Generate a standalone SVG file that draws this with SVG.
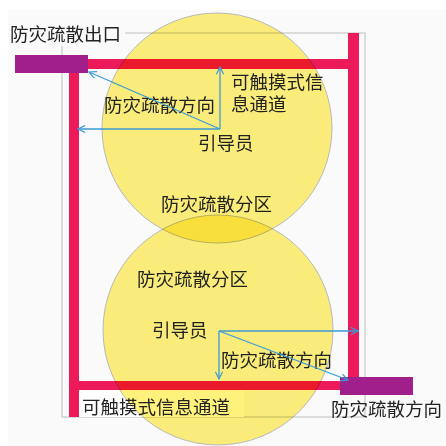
<svg xmlns="http://www.w3.org/2000/svg" width="446" height="446" viewBox="0 0 446 446">
<defs>
<style>
.t{font-family:"Noto Sans CJK SC","Noto Sans",sans-serif;font-size:18.5px;fill:#222}
.bar{fill:#ec1a5a}
.pur{fill:#a01f8b}
.zone{fill:#fef17c;stroke:#bcbcbc;stroke-width:1;mix-blend-mode:multiply}
.arr{stroke:#3b9bd6;stroke-width:1.3;fill:none;marker-end:url(#ah)}
</style>
<marker id="ah" viewBox="0 0 10 10" refX="9" refY="5" markerWidth="9" markerHeight="9" markerUnits="userSpaceOnUse" orient="auto">
<path d="M1,1 L9,5 L1,9" fill="none" stroke="#3b9bd6" stroke-width="1.3"/>
</marker>
</defs>
<rect width="446" height="446" fill="#ffffff"/>
<rect x="8" y="10" width="438" height="436" fill="#fafafa"/>
<g id="frame">
<rect x="62" y="33" width="303" height="384" fill="none" stroke="#c8c8c8" stroke-width="1.2"/>
</g>
<g id="channels">
<rect class="bar" x="69" y="60" width="10" height="357"/>
<rect class="bar" x="80" y="59" width="279" height="10"/>
<rect class="bar" x="348" y="33" width="11" height="357"/>
<rect class="bar" x="69" y="381" width="281" height="9"/>
</g>
<g id="exit">
<rect x="8" y="18" width="117" height="28" fill="#fafafa"/>
<rect class="pur" x="15" y="55" width="73" height="18"/>
</g>
<g id="exit2">
<rect class="pur" x="340" y="377" width="73" height="18"/>
</g>
<rect x="79" y="391" width="165" height="26" fill="#ffffff"/>
<g id="zone1">
<circle class="zone" cx="217" cy="128" r="115"/>
</g>
<g id="zone2">
<circle class="zone" cx="218" cy="330" r="115"/>
</g>
<g id="labels">
<text class="t" x="10" y="41">防灾疏散出口</text>
<text class="t" x="104" y="112">防灾疏散方向</text>
<text class="t"><tspan x="231" y="89">可触摸式信</tspan><tspan x="231" y="111">息通道</tspan></text>
<text class="t" x="198" y="150">引导员</text>
<text class="t" x="161" y="211">防灾疏散分区</text>
<text class="t" x="137" y="286">防灾疏散分区</text>
<text class="t" x="152" y="337">引导员</text>
<text class="t" x="221" y="367">防灾疏散方向</text>
<text class="t" x="82" y="414">可触摸式信息通道</text>
<text class="t" x="331" y="416">防灾疏散方向</text>
</g>
<g id="connectors">
<line class="arr" x1="220" y1="129" x2="220" y2="67"/>
<line class="arr" x1="220" y1="129" x2="89" y2="72"/>
<line class="arr" x1="220" y1="129" x2="78" y2="129"/>
<line class="arr" x1="219" y1="331" x2="358" y2="331"/>
<line class="arr" x1="219" y1="331" x2="348" y2="380"/>
<line class="arr" x1="219" y1="331" x2="219" y2="379"/>
</g>
</svg>
